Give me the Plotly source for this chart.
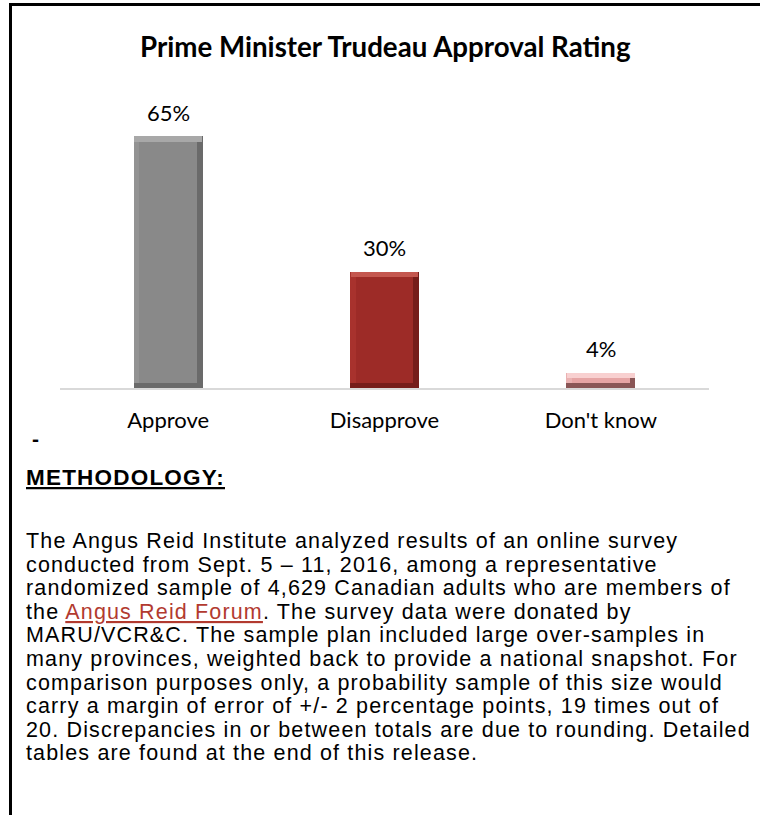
import plotly.graph_objects as go

# Survey results
categories = ["Approve", "Disapprove", "Don't know"]
approval_pct = [65, 30, 4]
value_labels = ["65%", "30%", "4%"]

title_text = "Prime Minister Trudeau Approval Rating"
methodology_heading = "METHODOLOGY:"
methodology_lines = [
    "The Angus Reid Institute analyzed results of an online survey",
    "conducted from Sept. 5 \u2013 11, 2016, among a representative",
    "randomized sample of 4,629 Canadian adults who are members of",
    "the <span style='color:#b23a2f;text-decoration:underline'>Angus Reid Forum</span>. The survey data were donated by",
    "MARU/VCR&C. The sample plan included large over-samples in",
    "many provinces, weighted back to provide a national snapshot. For",
    "comparison purposes only, a probability sample of this size would",
    "carry a margin of error of +/- 2 percentage points, 19 times out of",
    "20. Discrepancies in or between totals are due to rounding. Detailed",
    "tables are found at the end of this release.",
]

# Bevelled bar colours
edge_colors = ["#6a6a6a", "#761d1a", "#8a5656"]   # right / bottom edge
left_colors = ["#939393", "#a8322d", "#eab2b2"]   # left edge
top_colors = ["#a8a8a8", "#c4574f", "#f8d0d0"]    # top edge
face_colors = ["#898989", "#9d2b27", "#e6a4a4"]   # front face

W, H = 760, 815
PL, PR, PT, PB = 60, 51, 117, 427  # plot area margins in px
plot_w = W - PL - PR
plot_h = H - PT - PB
Y_MAX = 70
bevel_y = 1.35      # bevel depth, y data units
bar_w = 0.32        # bar width, category units
bevel_x = 0.026     # bevel depth, category units

BODY_FONT = dict(family="Liberation Sans", size=21.5, color="#000000")
BODY_STYLE = "letter-spacing:1.15px"
HEAD_FONT = dict(family="Liberation Sans", size=22.5, color="#000000", lineposition="under")
HEAD_STYLE = "letter-spacing:1.2px"


def px_x(px):
    return (px - PL) / plot_w


def px_y(py):
    return (H - PB - py) / plot_h


n = len(categories)
fig = go.Figure()

# outer body (shadowed edges)
fig.add_trace(go.Bar(
    x=categories, y=approval_pct, width=bar_w,
    marker=dict(color=edge_colors, line=dict(width=0)),
    hoverinfo="skip", showlegend=False,
))
# left edge
fig.add_trace(go.Bar(
    x=categories, y=[v - bevel_y for v in approval_pct], base=[bevel_y] * n,
    width=bevel_x, offset=-bar_w / 2,
    marker=dict(color=left_colors, line=dict(width=0)),
    hoverinfo="skip", showlegend=False,
))
# top highlight band
fig.add_trace(go.Bar(
    x=categories, y=[bevel_y] * n,
    base=[v - bevel_y for v in approval_pct], width=bar_w - 0.006,
    marker=dict(color=top_colors, line=dict(width=0)),
    hoverinfo="skip", showlegend=False,
))
# front face
fig.add_trace(go.Bar(
    x=categories, y=[max(v - 2 * bevel_y, 0.3) for v in approval_pct],
    base=[bevel_y] * n, width=bar_w - 2 * bevel_x,
    marker=dict(color=face_colors, line=dict(width=0)),
    hoverinfo="skip", showlegend=False,
))

annotations = []
for cat, v, lab in zip(categories, approval_pct, value_labels):
    annotations.append(dict(
        x=cat, y=v, xref="x", yref="y", text=lab, showarrow=False,
        yshift=24, yanchor="middle",
        font=dict(family="Lato", size=22, color="#000000"),
    ))

annotations.append(dict(
    x=px_x(385), y=px_y(46), xref="paper", yref="paper", text="<b>" + title_text + "</b>",
    showarrow=False, xanchor="center", yanchor="middle",
    font=dict(family="Lato", size=27.7, color="#000000"),
))

annotations.append(dict(
    x=px_x(30), y=px_y(439), xref="paper", yref="paper", text="<b>-</b>",
    showarrow=False, xanchor="left", yanchor="middle",
    font=dict(family="Liberation Sans", size=21, color="#000000"),
))

annotations.append(dict(
    x=px_x(24), y=px_y(477), xref="paper", yref="paper",
    text="<span style='%s'><b>%s</b></span>" % (HEAD_STYLE, methodology_heading),
    showarrow=False, xanchor="left", yanchor="middle",
    font=HEAD_FONT,
))

line_y0 = 541
line_step = 23.6
for i, line in enumerate(methodology_lines):
    annotations.append(dict(
        x=px_x(24), y=px_y(line_y0 + i * line_step), xref="paper", yref="paper",
        text="<span style='%s'>%s</span>" % (BODY_STYLE, line),
        showarrow=False, xanchor="left", yanchor="middle",
        font=BODY_FONT,
    ))

shapes = [
    # frame: top rule and left rule
    dict(type="line", xref="paper", yref="paper",
         x0=px_x(9), x1=px_x(762), y0=px_y(4.5), y1=px_y(4.5),
         line=dict(color="#000000", width=3)),
    dict(type="line", xref="paper", yref="paper",
         x0=px_x(10.5), x1=px_x(10.5), y0=px_y(3), y1=px_y(820),
         line=dict(color="#000000", width=3)),
]

fig.update_layout(
    width=W, height=H,
    margin=dict(l=PL, r=PR, t=PT, b=PB, pad=0),
    paper_bgcolor="#ffffff", plot_bgcolor="#ffffff",
    barmode="overlay", bargap=0,
    showlegend=False,
    annotations=annotations,
    shapes=shapes,
    xaxis=dict(
        showline=True, linecolor="#d9d9d9", linewidth=2,
        showgrid=False, zeroline=False, ticks="",
        tickfont=dict(family="Lato", size=22, color="#000000"),
        ticklabelstandoff=12, fixedrange=True,
    ),
    yaxis=dict(visible=False, range=[0, Y_MAX], fixedrange=True),
)

fig.write_html("out.html", config={"displayModeBar": False})
